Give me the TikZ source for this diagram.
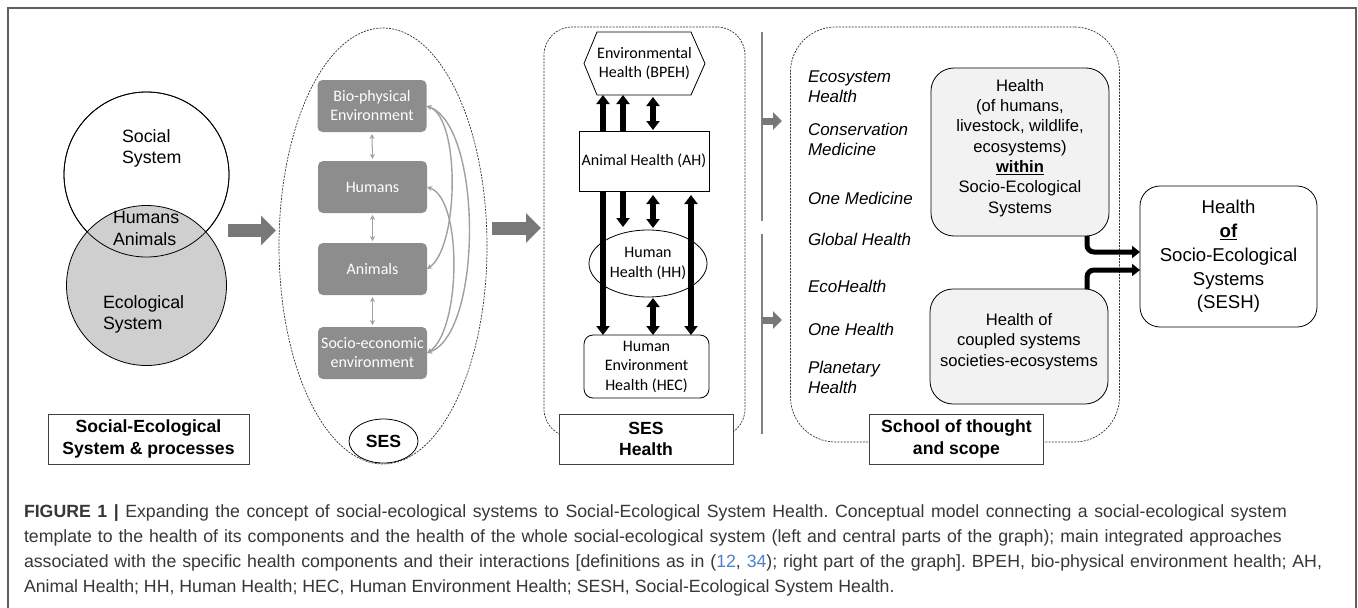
\documentclass[tikz,border=0pt]{standalone}
\usepackage{fontspec}
\setmainfont{Liberation Sans}
\newfontfamily\calib{Carlito}
\usetikzlibrary{arrows.meta,shapes.geometric}
\frenchspacing
\definecolor{framecol}{RGB}{95,95,95}
\definecolor{boxgray}{RGB}{141,141,141}
\definecolor{ecogray}{RGB}{207,207,207}
\definecolor{bigarrow}{RGB}{120,120,120}
\definecolor{curvecol}{RGB}{160,160,160}
\definecolor{fillbox}{RGB}{242,242,242}
\definecolor{sepgray}{RGB}{130,130,130}
\definecolor{captxt}{RGB}{55,55,55}
\definecolor{refblue}{RGB}{80,130,200}
\begin{document}
\begin{tikzpicture}[x=1pt,y=-1pt,
  every node/.style={inner sep=0pt,outer sep=0pt},
  lab/.style={font=\fontsize{17.8}{21.7}\selectfont},
  blab/.style={font=\bfseries\fontsize{17.6}{21.7}\selectfont},
  dsh/.style={draw=black!80,line width=0.7pt,dash pattern=on 2pt off 1.2pt},
  gbox/.style={rectangle,rounded corners=5pt,fill=boxgray,text=white,minimum width=109pt,minimum height=52pt,align=center,font=\calib\fontsize{16}{19}\selectfont},
  hlab/.style={align=center,font=\calib\fontsize{16}{19.5}\selectfont},
  tbox/.style={rectangle,draw=black!75,line width=0.8pt,fill=white,minimum width=174pt,minimum height=50pt,align=center,font=\bfseries\fontsize{17.6}{21.7}\selectfont},
  bigarr/.style={draw=bigarrow,line width=13pt,-{Triangle[length=15pt,width=29pt]}},
  smarr/.style={draw=bigarrow,line width=7pt,-{Triangle[length=9pt,width=17pt]}},
  ses/.style={draw=curvecol,line width=1.4pt,{Stealth[length=5pt,width=5pt]}-{Stealth[length=5pt,width=5pt]}},
  bk/.style={draw=black,line width=5.5pt},
  tip/.style={-{Triangle[length=9pt,width=13pt]}},
  dtip/.style={{Triangle[length=9pt,width=13pt]}-{Triangle[length=9pt,width=13pt]}},
  ital/.style={anchor=west,align=left,font=\itshape\fontsize{17}{20}\selectfont},
  hbox/.style={rectangle,rounded corners=23pt,draw=black,line width=0.8pt,fill=fillbox},
  rtxt/.style={align=center,font=\fontsize{16.6}{20.3}\selectfont},
  capst/.style={anchor=base west,text=captxt,font=\fontsize{17.7}{25}\selectfont},
]
\useasboundingbox (0,0) rectangle (1358,608);
\fill[white] (0,0) rectangle (1358,608);
\draw[framecol,line width=2pt] (8,608) -- (8,8) -- (1356,8) -- (1356,608);

% Venn diagram
\node[circle,draw=black,line width=0.8pt,fill=white,minimum size=165pt] (soc) at (146.5,174.5) {};
\node[circle,draw=black,line width=0.8pt,fill=ecogray,minimum size=160pt] (eco) at (146.5,285.5) {};
\draw[black,line width=0.8pt] (soc.center) circle[radius=82.5];
\node[lab,align=left,anchor=west] (soctxt) at (122,148.5) {Social\\System};
\node[lab,align=left,anchor=west] (hatxt) at (113,228.5) {Humans\\Animals};
\node[lab,align=left,anchor=west] (ecotxt) at (103,314.5) {Ecological\\System};
\node[tbox,minimum width=201pt] (sesp) at (148.5,439) {Social-Ecological\\System \& processes};

\coordinate (ar1s) at (228,230.5);
\coordinate (ar1e) at (276,230.5);
\draw[bigarr] (ar1s) -- (ar1e);

% SES ellipse
\node[ellipse,dsh,minimum width=208pt,minimum height=436pt] (sesell) at (383,246) {};
\node[gbox] (bio) at (372,106) {Bio-physical\\Environment};
\node[gbox] (hum) at (372.5,187) {Humans};
\node[gbox] (ani) at (372.5,269) {Animals};
\node[gbox] (soe) at (372.5,353) {Socio-economic\\environment};
\draw[ses,line width=1pt,shorten <=2pt,shorten >=2pt] (bio.south) -- (hum.north);
\draw[ses,line width=1pt,shorten <=2pt,shorten >=2pt] (hum.south) -- (ani.north);
\draw[ses,line width=1pt,shorten <=2pt,shorten >=2pt] (ani.south) -- (soe.north);
\draw[ses] (bio.east) .. controls +(34,12) and +(32,-22) .. (ani.east);
\draw[ses] (bio.east) .. controls +(56,20) and +(56,-20) .. (soe.east);
\draw[ses] (hum.east) .. controls +(36,12) and +(34,-22) .. (soe.east);
\node[ellipse,draw=black,line width=0.8pt,fill=white,minimum width=69pt,minimum height=44pt,blab] (seslab) at (383.5,441) {SES};

\coordinate (ar2s) at (492,228);
\coordinate (ar2e) at (541,228);
\draw[bigarr] (ar2s) -- (ar2e);

% SES Health
\node[rectangle,rounded corners=28pt,dsh,minimum width=201pt,minimum height=410pt] (shd) at (644.5,232) {};
\node[tbox] (sesh) at (646,439) {SES\\Health};
\node[hlab,minimum width=121pt,minimum height=63pt] (bpeh) at (644.5,63.5) {Environmental\\Health (BPEH)};
\draw[black,line width=0.8pt] (bpeh.west) -- ([xshift=13pt]bpeh.north west) -- ([xshift=-14pt]bpeh.north east) -- (bpeh.east) -- ([xshift=-14pt]bpeh.south east) -- ([xshift=13pt]bpeh.south west) -- cycle;
\node[hlab,draw=black,line width=0.8pt,minimum width=130pt,minimum height=60pt] (ah) at (644,161) {Animal Health (AH)};
\node[ellipse,hlab,draw=black,line width=0.8pt,fill=white,minimum width=118pt,minimum height=67pt] (hh) at (648,263.5) {Human\\Health (HH)};
\node[hlab,rectangle,rounded corners=9pt,draw=black,line width=0.8pt,minimum width=125pt,minimum height=63pt] (hec) at (646.5,366.5) {Human\\Environment\\Health (HEC)};
\coordinate (k1) at (603,0);
\coordinate (k2) at (623,0);
\coordinate (k3) at (653,0);
\coordinate (k4) at (691,0);
\draw[bk,tip] (ah.north -| k1) -- (bpeh.south -| k1);
\draw[bk,tip] (ah.north -| k2) -- (bpeh.south -| k2);
\draw[bk,dtip,shorten <=1pt,shorten >=2pt] (ah.north -| k3) -- (bpeh.south -| k3);
\draw[bk,tip] (ah.south -| k1) -- (hec.north -| k1);
\draw[bk,tip,shorten >=3pt] (ah.south -| k2) -- (hh.north -| k2);
\draw[bk,dtip,shorten <=4pt,shorten >=2pt] (ah.south -| k3) -- (hh.north -| k3);
\draw[bk,dtip,shorten <=4pt] (ah.south -| k4) -- (hec.north -| k4);
\draw[bk,dtip,shorten <=1pt] (hh.south -| k3) -- (hec.north -| k3);

% separators
\coordinate (v1t) at (762,32);
\coordinate (v1b) at (762,221);
\coordinate (v2t) at (762,234);
\coordinate (v2b) at (762,434);
\draw[sepgray,line width=1.5pt] (v1t) -- (v1b);
\draw[sepgray,line width=1.5pt] (v2t) -- (v2b);
\coordinate (sa1s) at (762,121);
\coordinate (sa1e) at (782,121);
\coordinate (sa2s) at (762,320);
\coordinate (sa2e) at (782,320);
\draw[smarr] (sa1s) -- (sa1e);
\draw[smarr] (sa2s) -- (sa2e);

% School of thought
\node[rectangle,rounded corners=45pt,dsh,minimum width=329pt,minimum height=415pt] (schd) at (955,234.5) {};
\node[tbox] (school) at (956.5,439) {School of thought\\and scope};
\node[ital] (t1) at (808,87) {Ecosystem\\Health};
\node[ital] (t2) at (808,139) {Conservation\\Medicine};
\node[ital] (t3) at (808,198) {One Medicine};
\node[ital] (t4) at (808,239) {Global Health};
\node[ital] (t5) at (808,286) {EcoHealth};
\node[ital] (t6) at (808,329) {One Health};
\node[ital] (t7) at (808,377) {Planetary\\Health};

\node[hbox,minimum width=178pt,minimum height=168pt] (within) at (1020,152) {};
\node[rtxt] (withintxt) at (1020,148) {Health\\(of humans,\\livestock, wildlife,\\ecosystems)\\\underline{\textbf{within}}\\Socio-Ecological\\Systems};
\node[hbox,minimum width=178pt,minimum height=115pt] (coup) at (1019,346.5) {};
\node[rtxt] (couptxt) at (1019,341.5) {Health of\\coupled systems\\societies-ecosystems};
\node[rectangle,rounded corners=20pt,draw=black,line width=0.8pt,fill=white,minimum width=177pt,minimum height=141pt,align=center,font=\fontsize{18.6}{23.8}\selectfont] (sesh2) at (1228.5,256.5) {Health\\\underline{\textbf{of}}\\Socio-Ecological\\Systems\\(SESH)};
\coordinate (j1) at (1087,252);
\coordinate (j2) at (1087,270);
\draw[bk,line width=5pt,rounded corners=7pt,-{Triangle[length=8pt,width=12pt]}] (within.south -| j1) -- (j1) -- (sesh2.west |- j1);
\draw[bk,line width=5pt,rounded corners=7pt,-{Triangle[length=8pt,width=12pt]}] (coup.north -| j2) -- (j2) -- (sesh2.west |- j2);

% caption
\node[capst] (cap1) at (24,517.5) {\hbox to 1263pt{\textbf{FIGURE 1 |} Expanding the concept of social-ecological systems to Social-Ecological System Health. Conceptual model connecting a social-ecological system}};
\node[capst] (cap2) at (24,542.5) {\hbox to 1258pt{template to the health of its components and the health of the whole social-ecological system (left and central parts of the graph); main integrated approaches}};
\node[capst] (cap3) at (24,567.5) {\hbox to 1298pt{associated with the specific health components and their interactions [definitions as in ({\color{refblue}12}, {\color{refblue}34}); right part of the graph]. BPEH, bio-physical environment health; AH,}};
\node[capst] (cap4) at (24,592.5) {Animal Health; HH, Human Health; HEC, Human Environment Health; SESH, Social-Ecological System Health.};
\end{tikzpicture}
\end{document}
